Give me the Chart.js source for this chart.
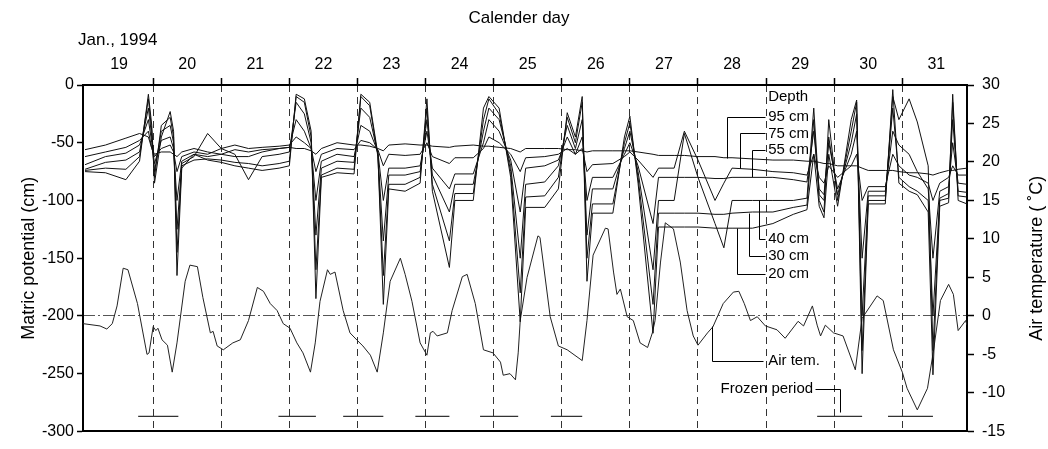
<!DOCTYPE html>
<html>
<head>
<meta charset="utf-8">
<script src="https://cdn.jsdelivr.net/npm/chart.js@4.4.0/dist/chart.umd.min.js"></script>
<style>
  html, body { margin: 0; padding: 0; background: #fff; }
</style>
</head>
<body>
<canvas id="soilChart" width="1048" height="449"></canvas>
<script>
// top axis labels (calendar day, Jan. 1994)
const dayLabels = ["19", "20", "21", "22", "23", "24", "25", "26", "27", "28", "29", "30", "31"];

// soil matric potential (cm), shared time axis in days
const soilDays = [19.00,19.30,19.60,19.80,19.93,19.98,20.02,20.12,20.25,20.30,
  20.35,20.42,20.60,20.80,21.00,21.20,21.40,21.60,21.85,22.00,
  22.10,22.22,22.32,22.39,22.47,22.70,22.95,23.05,23.18,23.30,
  23.38,23.46,23.70,23.92,24.02,24.10,24.35,24.43,24.70,24.85,
  24.93,25.08,25.25,25.39,25.47,25.75,25.95,26.08,26.20,26.30,
  26.37,26.45,26.75,26.92,27.00,27.12,27.34,27.42,27.65,27.80,
  28.00,28.25,28.38,28.50,28.80,29.10,29.40,29.60,29.70,29.78,
  29.85,29.92,30.05,30.25,30.33,30.41,30.50,30.75,30.86,30.95,
  31.10,31.22,31.38,31.45,31.55,31.68,31.74,31.82,31.95];

const depth95 = [-56,-52,-46,-42,-45,-55,-60,-58,-58,-60,
  -62,-58,-55,-58,-60,-62,-62,-58,-55,-54,
  -55,-55,-57,-60,-55,-50,-52,-52,-53,-55,
  -57,-52,-51,-52,-52,-53,-54,-53,-52,-53,
  -53,-54,-55,-58,-55,-55,-55,-56,-56,-57,
  -58,-57,-57,-57,-57,-58,-60,-61,-61,-61,
  -62,-62,-63,-63,-64,-65,-65,-66,-66,-67,
  -68,-68,-70,-70,-70,-72,-74,-74,-74,-75,
  -76,-76,-77,-78,-76,-74,-74,-73,-72];

const depth75 = [-62,-58,-54,-48,-40,-55,-62,-55,-52,-58,
  -75,-62,-58,-60,-55,-52,-55,-54,-53,-52,
  -45,-50,-55,-75,-60,-55,-56,-48,-50,-56,
  -70,-60,-61,-60,-50,-62,-68,-63,-63,-55,
  -45,-50,-60,-75,-63,-62,-60,-55,-60,-55,
  -75,-69,-68,-62,-58,-65,-80,-72,-72,-40,
  -65,-100,-85,-72,-73,-75,-76,-78,-60,-80,
  -85,-70,-80,-70,-60,-100,-88,-88,-60,-70,
  -78,-80,-85,-100,-85,-80,-70,-78,-78];

const depth55 = [-69,-62,-59,-52,-30,-50,-68,-48,-45,-55,
  -100,-66,-60,-62,-60,-56,-58,-56,-55,-54,
  -30,-40,-55,-100,-66,-60,-62,-35,-40,-58,
  -100,-72,-72,-70,-40,-72,-90,-77,-77,-50,
  -30,-40,-65,-110,-72,-70,-65,-45,-60,-45,
  -100,-80,-80,-60,-50,-70,-120,-80,-80,-80,
  -80,-81,-81,-80,-80,-80,-82,-84,-40,-90,
  -95,-50,-90,-60,-40,-150,-92,-92,-40,-52,
  -60,-75,-90,-150,-92,-88,-50,-85,-86];

const depth40 = [-73,-67,-65,-58,-20,-45,-75,-40,-35,-50,
  -125,-68,-62,-42,-55,-60,-82,-62,-60,-58,
  -15,-25,-50,-130,-72,-66,-67,-20,-28,-60,
  -135,-78,-78,-75,-30,-78,-110,-86,-86,-40,
  -20,-30,-70,-150,-86,-84,-70,-35,-55,-30,
  -130,-90,-90,-55,-40,-75,-160,-100,-100,-42,
  -80,-120,-141,-100,-100,-100,-100,-98,-20,-95,
  -100,-45,-95,-50,-25,-200,-96,-96,-20,-80,
  -88,-92,-100,-200,-98,-94,-30,-92,-93];

const depth30 = [-74,-72,-73,-62,-12,-40,-80,-35,-28,-45,
  -145,-70,-65,-64,-65,-67,-68,-70,-68,-66,
  -10,-15,-45,-160,-78,-72,-73,-10,-18,-62,
  -165,-86,-86,-80,-20,-86,-135,-94,-94,-30,
  -12,-25,-75,-180,-97,-96,-80,-28,-50,-15,
  -150,-103,-103,-50,-33,-80,-190,-111,-111,-111,
  -111,-112,-112,-111,-110,-110,-106,-104,-30,-100,
  -110,-30,-100,-40,-15,-230,-100,-100,-10,-30,
  -12,-32,-70,-230,-100,-98,-15,-96,-97];

const depth20 = [-75,-76,-82,-66,-8,-35,-85,-45,-23,-40,
  -165,-72,-60,-65,-67,-70,-72,-74,-72,-70,
  -8,-12,-40,-185,-80,-76,-77,-8,-15,-60,
  -190,-90,-92,-85,-12,-92,-158,-100,-100,-20,
  -10,-20,-80,-205,-106,-106,-90,-24,-45,-10,
  -170,-111,-111,-45,-27,-85,-215,-123,-123,-123,
  -123,-124,-124,-124,-124,-120,-112,-108,-60,-105,
  -115,-60,-105,-30,-13,-250,-103,-103,-4,-85,
  -92,-95,-110,-251,-105,-102,-8,-100,-103];

// air temperature (deg C)
const airDays = [18.97,19.22,19.32,19.40,19.47,19.56,19.63,19.77,19.91,19.94,
  20.00,20.04,20.07,20.13,20.21,20.28,20.35,20.47,20.54,20.65,
  20.73,20.84,20.88,20.94,21.03,21.17,21.28,21.40,21.53,21.62,
  21.72,21.82,21.91,22.01,22.11,22.20,22.31,22.38,22.45,22.56,
  22.60,22.67,22.79,22.89,23.00,23.08,23.19,23.29,23.38,23.48,
  23.63,23.70,23.80,23.92,24.02,24.07,24.11,24.17,24.32,24.39,
  24.54,24.61,24.73,24.85,24.99,25.10,25.14,25.24,25.32,25.36,
  25.39,25.49,25.65,25.68,25.83,25.95,26.08,26.30,26.37,26.46,
  26.64,26.68,26.76,26.81,26.86,26.96,27.05,27.15,27.26,27.33,
  27.37,27.45,27.52,27.64,27.74,27.84,27.93,28.00,28.14,28.22,
  28.37,28.52,28.60,28.68,28.77,28.87,28.99,29.16,29.28,29.47,
  29.55,29.68,29.75,29.80,29.87,29.99,30.13,30.27,30.31,30.41,
  30.63,30.72,30.87,31.00,31.07,31.22,31.37,31.46,31.56,31.68,
  31.75,31.82,31.93,31.95];

const airTemp = [-1.0,-1.3,-1.7,-1.0,1.3,6.2,6.0,1.6,-5.0,-4.8,
  -1.4,-1.9,-1.6,-3.1,-3.8,-7.3,-3.5,4.5,6.6,6.4,
  2.4,-2.2,-2.0,-3.9,-4.4,-3.5,-3.1,-0.6,3.7,3.2,
  1.6,0.7,-1.0,-1.6,-3.5,-4.8,-7.3,-3.5,1.9,6.0,
  5.4,5.7,0.7,-2.2,-3.2,-3.9,-5.1,-7.3,-2.2,4.5,
  7.5,5.4,1.9,-3.5,-5.1,-2.2,-2.0,-2.6,-2.2,0.7,
  5.1,5.4,1.6,-4.4,-4.8,-6.0,-7.7,-7.5,-8.3,-4.8,
  -0.6,5.0,10.4,10.2,-0.1,-3.9,-4.4,-5.8,-0.6,7.9,
  11.4,11.3,5.7,2.8,3.5,-0.1,-0.6,-3.5,-4.1,-2.2,
  -0.6,7.0,12.1,11.3,7.0,0.7,-2.6,-3.8,-2.2,-1.4,
  1.6,3.1,3.2,1.6,-0.6,-0.1,-1.3,-1.8,-2.9,-0.7,
  -1.3,1.3,-1.2,-2.6,-1.2,-2.2,-2.6,-6.0,-7.0,-0.3,
  2.6,2.0,-4.4,-7.3,-9.4,-12.2,-9.4,-4.4,2.0,4.1,
  2.8,-1.9,-0.6,-1.2];

// frozen periods (start / end day)
const frozenStart = [19.78, 21.84, 22.79, 23.85, 24.80, 25.84, 29.75, 30.79];
const frozenEnd = [20.37, 22.39, 23.38, 24.35, 25.36, 26.30, 30.41, 31.45];
const frozenLevel = -287;

const FONT = '"Liberation Sans", Arial, sans-serif';
const dayMin = 18.97, dayMax = 31.95;

function toPoints(xs, ys) {
  return xs.map((v, i) => ({ x: v, y: ys[i] }));
}

function frozenPoints() {
  const pts = [];
  frozenStart.forEach((s, i) => {
    pts.push({ x: s, y: frozenLevel });
    pts.push({ x: frozenEnd[i], y: frozenLevel });
    pts.push({ x: frozenEnd[i], y: null });
  });
  return pts;
}

function soilSet(label, values) {
  return {
    label: label,
    data: toPoints(soilDays, values),
    borderColor: "#111",
    borderWidth: 1,
    pointRadius: 0,
    tension: 0,
    yAxisID: "y"
  };
}

// label text and leader lines, in day / cm units
const notes = [
  { text: "Depth", at: [29.03, -10], line: null },
  { text: "95 cm", at: [29.03, -28], line: [[28.43, -63], [28.43, -28], [28.99, -28]] },
  { text: "75 cm", at: [29.03, -42], line: [[28.61, -72], [28.61, -42], [28.99, -42]] },
  { text: "55 cm", at: [29.03, -56.5], line: [[28.80, -80], [28.80, -56.5], [28.99, -56.5]] },
  { text: "40 cm", at: [29.03, -133], line: [[28.89, -100], [28.89, -133], [28.99, -133]] },
  { text: "30 cm", at: [29.03, -148], line: [[28.75, -111], [28.75, -148], [28.99, -148]] },
  { text: "20 cm", at: [29.03, -163.5], line: [[28.58, -124], [28.58, -163.5], [28.99, -163.5]] },
  { text: "Air tem.", at: [29.03, -239], line: [[28.21, -209], [28.21, -239], [28.96, -239]] },
  { text: "Frozen period", at: [29.69, -263], align: "right", line: [[29.72, -263], [30.08, -263], [30.08, -283]] }
];

const notesPlugin = {
  id: "notes",
  afterDraw(chart) {
    const ctx = chart.ctx;
    const xs = chart.scales.x, ys = chart.scales.y;
    const area = chart.chartArea;
    ctx.save();
    ctx.fillStyle = "#000";
    ctx.strokeStyle = "#000";
    ctx.lineWidth = 1;
    ctx.textBaseline = "middle";

    ctx.font = "17px " + FONT;
    ctx.textAlign = "center";
    ctx.fillText("Calender day", 519, 18);
    ctx.textAlign = "left";
    ctx.fillText("Jan., 1994", 78, 40);

    ctx.save();
    ctx.font = "18px " + FONT;
    ctx.textAlign = "center";
    ctx.translate(1037, (area.top + area.bottom) / 2);
    ctx.rotate(-Math.PI / 2);
    ctx.fillText("Air temperature ( \u02DAC)", 0, 0);
    ctx.restore();

    ctx.font = "15px " + FONT;
    notes.forEach(n => {
      if (n.line) {
        ctx.beginPath();
        n.line.forEach((p, i) => {
          const px = Math.round(xs.getPixelForValue(p[0])) + 0.5;
          const py = Math.round(ys.getPixelForValue(p[1])) + 0.5;
          if (i === 0) ctx.moveTo(px, py); else ctx.lineTo(px, py);
        });
        ctx.stroke();
      }
      ctx.textAlign = n.align || "left";
      ctx.fillText(n.text, xs.getPixelForValue(n.at[0]), ys.getPixelForValue(n.at[1]));
    });
    ctx.restore();
  }
};

const config = {
  type: "line",
  data: {
    datasets: [
      soilSet("95 cm", depth95),
      soilSet("75 cm", depth75),
      soilSet("55 cm", depth55),
      soilSet("40 cm", depth40),
      soilSet("30 cm", depth30),
      soilSet("20 cm", depth20),
      {
        label: "Air tem.",
        data: toPoints(airDays, airTemp),
        borderColor: "#222",
        borderWidth: 1,
        pointRadius: 0,
        tension: 0,
        yAxisID: "y2"
      },
      {
        label: "Frozen period",
        data: frozenPoints(),
        borderColor: "#333",
        borderWidth: 1.2,
        pointRadius: 0,
        spanGaps: false,
        yAxisID: "y"
      }
    ]
  },
  options: {
    responsive: false,
    animation: false,
    events: [],
    layout: { padding: 0 },
    plugins: {
      legend: { display: false },
      tooltip: { enabled: false }
    },
    scales: {
      x: {
        type: "linear",
        position: "top",
        weight: 1,
        min: dayMin,
        max: dayMax,
        afterBuildTicks: (s) => { s.ticks = dayLabels.map((l, i) => ({ value: 19.5 + i })); },
        afterFit: (s) => { s.height = 85; },
        ticks: {
          autoSkip: false,
          maxRotation: 0,
          padding: 3,
          color: "#000",
          font: { family: FONT, size: 16 },
          callback: (v, i) => dayLabels[i]
        },
        grid: { display: false },
        border: { display: true, width: 2, color: "#000" }
      },
      xDay: {
        type: "linear",
        position: "top",
        weight: 0,
        min: dayMin,
        max: dayMax,
        afterBuildTicks: (s) => { s.ticks = dayLabels.slice(1).map((l, i) => ({ value: 20 + i })); },
        afterFit: (s) => { s.height = 0; },
        ticks: { display: false },
        grid: {
          drawOnChartArea: true,
          color: "#333",
          lineWidth: 1,
          tickLength: 7,
          tickColor: "#000",
          tickWidth: 1.5
        },
        border: { display: false, dash: [7, 5] }
      },
      xb: {
        type: "linear",
        position: "bottom",
        min: dayMin,
        max: dayMax,
        afterFit: (s) => { s.height = 8; },
        ticks: { display: false },
        grid: { drawOnChartArea: false, drawTicks: false },
        border: { display: true, width: 2, color: "#000" }
      },
      y: {
        position: "left",
        min: -300,
        max: 0,
        afterFit: (s) => { s.width = 83; },
        ticks: {
          stepSize: 50,
          padding: 3,
          color: "#000",
          font: { family: FONT, size: 16 }
        },
        grid: { drawOnChartArea: false, tickLength: 6, tickColor: "#000", tickWidth: 1.5 },
        border: { display: true, width: 2, color: "#000" },
        title: {
          display: true,
          text: "Matric potential (cm)",
          color: "#000",
          font: { family: FONT, size: 18 },
          padding: { top: 18, bottom: 0 }
        }
      },
      y2: {
        position: "right",
        min: -15,
        max: 30,
        afterFit: (s) => { s.width = 81; },
        ticks: {
          stepSize: 5,
          padding: 8,
          color: "#000",
          font: { family: FONT, size: 16 }
        },
        grid: {
          drawOnChartArea: true,
          color: (c) => (c.tick && c.tick.value === 0 ? "#555" : "rgba(0,0,0,0)"),
          lineWidth: 1,
          tickLength: 7,
          tickColor: "#000",
          tickWidth: 1.5
        },
        border: { display: true, width: 2, color: "#000", dash: [12, 3, 2, 3] }
      }
    }
  },
  plugins: [notesPlugin]
};

const soilChart = new Chart(document.getElementById("soilChart").getContext("2d"), config);
</script>
</body>
</html>
